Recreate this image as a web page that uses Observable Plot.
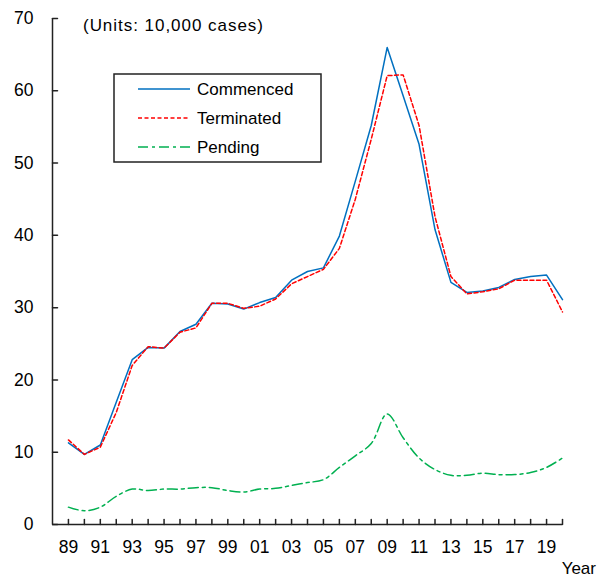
<!DOCTYPE html>
<html>
<head>
<meta charset="utf-8">
<script src="https://cdn.jsdelivr.net/npm/d3@7"></script>
<script src="https://cdn.jsdelivr.net/npm/@observablehq/plot@0.6"></script>
<style>
  html, body { margin: 0; padding: 0; background: #fff; }
  #chart { position: relative; width: 601px; height: 579px; }
</style>
</head>
<body>
<div id="chart"></div>
<script>
const years = d3.range(1989, 2021);
const commenced = [11.3, 9.7, 11.0, 16.9, 22.8, 24.5, 24.4, 26.7, 27.7, 30.6, 30.5, 29.8, 30.7, 31.4, 33.8, 35.0, 35.5, 39.9, 47.5, 55.2, 66.0, 59.3, 52.6, 40.8, 33.5, 32.1, 32.3, 32.8, 33.9, 34.3, 34.5, 31.1];
const terminated = [11.7, 9.7, 10.7, 15.5, 22.0, 24.6, 24.4, 26.6, 27.2, 30.6, 30.6, 29.9, 30.2, 31.2, 33.3, 34.3, 35.3, 38.2, 45.0, 53.3, 62.1, 62.2, 55.2, 42.6, 34.3, 31.9, 32.2, 32.6, 33.8, 33.8, 33.8, 29.4];
const pending = [2.4, 1.9, 2.4, 3.9, 4.9, 4.7, 4.9, 4.9, 5.1, 5.1, 4.7, 4.5, 4.9, 5.0, 5.4, 5.8, 6.2, 7.9, 9.5, 11.2, 15.3, 12.0, 9.2, 7.6, 6.8, 6.8, 7.1, 6.9, 6.9, 7.2, 7.9, 9.2];
const seriesNames = ["Commenced", "Terminated", "Pending"];
const yTicks = [0, 10, 20, 30, 40, 50, 60, 70];
const xLabelYears = d3.range(1989, 2021, 2);
const unitsText = "(Units: 10,000 cases)";
const xTitle = "Year";

const styles = {
  Commenced: {stroke: "#0070C0", dash: null, curve: "linear"},
  Terminated: {stroke: "#FF0000", dash: "4,2.5", curve: "linear"},
  Pending: {stroke: "#00B050", dash: "10,4,3,4", curve: "catmull-rom"}
};
const seriesValues = {Commenced: commenced, Terminated: terminated, Pending: pending};
const rows = (name) => years.map((yr, i) => ({year: yr, value: seriesValues[name][i]}));

const tickShape = {draw(context, l) { context.moveTo(0, 0); context.lineTo(0, -l); }};
const axisColor = "#222";
const font = "Liberation Sans, Arial, sans-serif";

const plot = Plot.plot({
  width: 601,
  height: 579,
  marginLeft: 52,
  marginRight: 39,
  marginTop: 18,
  marginBottom: 55,
  style: {fontFamily: font, fontSize: "17.5px", color: "#000", background: "#fff"},
  x: {domain: [years[0] - 1, years[years.length - 1]]},
  y: {domain: [0, 70]},
  marks: [
    ...seriesNames.map(name => Plot.line(rows(name), {
      x: "year", y: "value",
      stroke: styles[name].stroke,
      strokeWidth: 1.5,
      strokeDasharray: styles[name].dash,
      curve: styles[name].curve
    })),
    Plot.ruleY([0], {stroke: axisColor, strokeWidth: 1.5}),
    Plot.ruleX([years[0] - 1], {stroke: axisColor, strokeWidth: 1.5}),
    Plot.vector(yTicks, {y: d => d, frameAnchor: "left", length: 5, rotate: 90, anchor: "start", shape: tickShape, stroke: axisColor, strokeWidth: 1.5}),
    Plot.vector(years, {x: d => d, frameAnchor: "bottom", length: 5, rotate: 0, anchor: "start", shape: tickShape, stroke: axisColor, strokeWidth: 1.5}),
    Plot.axisY({ticks: yTicks, tickSize: 0, tickPadding: 19, label: null, fontSize: 17.5}),
    Plot.axisX({ticks: xLabelYears, tickSize: 0, tickPadding: 16, label: null, fontSize: 17.5,
      tickFormat: d => String(d % 100).padStart(2, "0")})
  ]
});
document.getElementById("chart").appendChild(plot);

// Annotations and legend (pixel layout)
const svg = d3.select(plot);
svg.append("text").attr("x", 83).attr("y", 31).attr("text-anchor", "start").attr("font-size", 17)
  .attr("font-family", font).attr("fill", "#000").attr("textLength", 180).attr("lengthAdjust", "spacing").text(unitsText);
svg.append("text").attr("x", 596).attr("y", 574).attr("text-anchor", "end").attr("font-size", 17)
  .attr("font-family", font).attr("fill", "#000").text(xTitle);

const lg = svg.append("g");
lg.append("rect").attr("x", 114).attr("y", 74).attr("width", 207).attr("height", 88)
  .attr("fill", "#fff").attr("stroke", axisColor).attr("stroke-width", 1.5);
seriesNames.forEach((name, i) => {
  const yy = 89 + i * 29;
  lg.append("line").attr("x1", 138).attr("x2", 190).attr("y1", yy).attr("y2", yy)
    .attr("stroke", styles[name].stroke).attr("stroke-width", 1.5)
    .attr("stroke-dasharray", styles[name].dash);
  lg.append("text").attr("x", 197).attr("y", yy).attr("dy", "0.35em").attr("text-anchor", "start")
    .attr("font-size", 17).attr("font-family", font).attr("fill", "#000").text(name);
});
</script>
</body>
</html>
